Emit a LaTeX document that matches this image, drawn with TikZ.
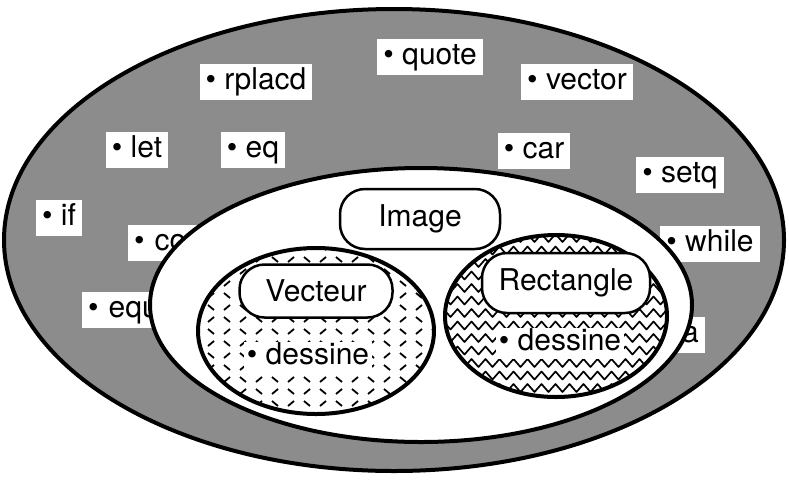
\documentclass[tikz,border=0pt]{standalone}
\usepackage{fontspec}
\setmainfont{TeX Gyre Heros}
\usetikzlibrary{decorations.pathmorphing}

\begin{document}
\begin{tikzpicture}[x=1pt,y=-1pt,
  mot/.style={fill=white,inner xsep=6pt,inner ysep=3.5pt,text height=22pt,text depth=7pt,font=\fontsize{30}{34}\selectfont},
  classe/.style={draw,line width=2.5pt,fill=white,rounded corners=25pt,minimum height=56pt,font=\fontsize{30}{34}\selectfont},
  tiret/.style={line width=1.8pt},
  vague/.style={decorate,decoration={zigzag,segment length=14pt,amplitude=4pt},line width=1.7pt,line join=round}]
\useasboundingbox (0,0) rectangle (789,488);

\draw[fill=black!45,line width=4pt] (394,240) ellipse [x radius=390pt, y radius=231pt];

\node[mot] (quote) at (430,57) {• quote};
\node[mot] (rplacd) at (256,82) {• rplacd};
\node[mot] (vector) at (577,82) {• vector};
\node[mot] (let) at (137,150) {• let};
\node[mot] (eq) at (253,150) {• eq};
\node[mot] (car) at (534,151) {• car};
\node[mot] (setq) at (680,175) {• setq};
\node[mot] (if) at (59,218) {• if};
\node[mot] (while) at (710,244) {• while};
\node[mot,anchor=west,text width=60pt,align=left] (co) at (128,243) {• co};
\node[mot,anchor=west,text width=80pt,align=left] (equ) at (82,310) {• equ};
\node[mot,anchor=east,text width=30pt,align=right] (la) at (705,335) {a};

\draw[fill=white,line width=4pt] (421,305) ellipse [x radius=271pt, y radius=137pt];

\begin{scope}
\clip (316,331) ellipse [x radius=118pt, y radius=83pt];
\foreach \i in {0,...,15} {
  \foreach \j in {0,...,15} {
    \pgfmathtruncatemacro\flip{mod(\i+\j,2)}
    \ifnum\flip=0
      \draw[tiret] ({192+\j*16},{245+\i*12}) -- ++(6,5);
    \else
      \draw[tiret] ({192+\j*16},{250+\i*12}) -- ++(6,-5);
    \fi
  }
}
\end{scope}
\draw[line width=4pt] (316,331) ellipse [x radius=118pt, y radius=83pt];

\begin{scope}
\clip (556,316) ellipse [x radius=111pt, y radius=81pt];
\foreach \k in {0,...,13}
  \draw[vague] (440,{238+\k*12.5}) -- (675,{238+\k*12.5});
\end{scope}
\draw[line width=4pt] (556,316) ellipse [x radius=111pt, y radius=81pt];

\node[classe,minimum width=160pt,minimum height=60pt] (image) at (420,219) {Image};
\node[classe,minimum width=153pt,minimum height=53pt] (vecteur) at (316,291) {Vecteur};
\node[classe,minimum width=168pt,minimum height=60pt] (rectangle) at (566,283) {Rectangle};

\node[mot,inner xsep=3pt,inner ysep=1pt] (dessV) at (308,357) {• dessine};
\node[mot,inner xsep=3pt,inner ysep=1pt] (dessR) at (560,343) {• dessine};
\end{tikzpicture}
\end{document}
